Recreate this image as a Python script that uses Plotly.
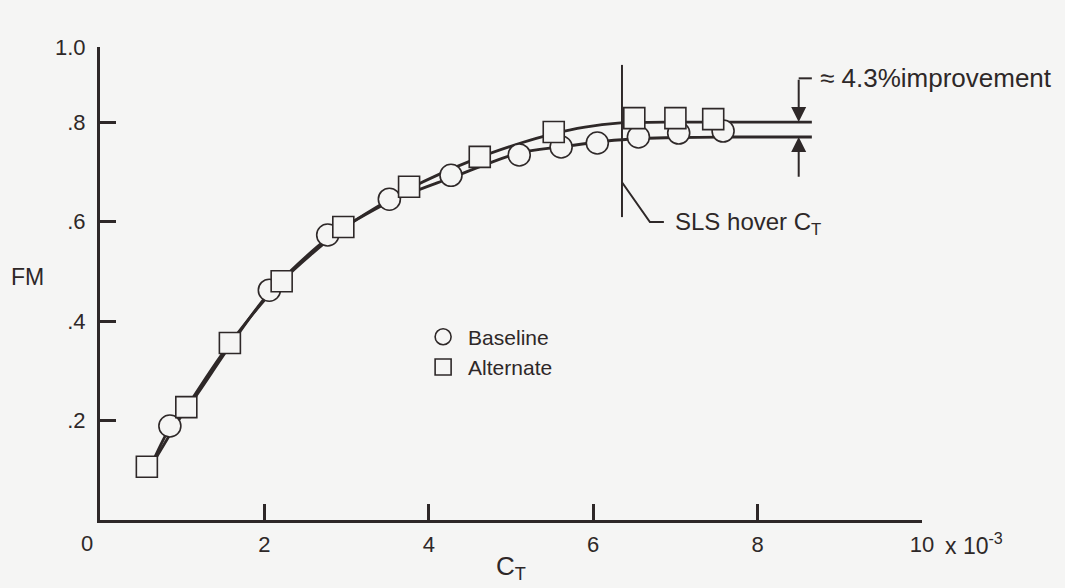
import plotly.graph_objects as go

# ---------------- data ----------------
ct_base = [0.85, 2.06, 2.77, 3.52, 4.27, 5.10, 5.61, 6.05, 6.55, 7.04, 7.58]
fm_base = [0.189, 0.462, 0.573, 0.645, 0.693, 0.734, 0.750, 0.758, 0.770, 0.778, 0.782]

ct_alt = [0.57, 1.05, 1.58, 2.21, 2.96, 3.76, 4.62, 5.52, 6.50, 7.00, 7.46]
fm_alt = [0.107, 0.227, 0.356, 0.480, 0.589, 0.670, 0.730, 0.780, 0.808, 0.808, 0.806]

fit_ct_base = [0.6, 0.85, 1.05, 1.58, 2.06, 2.77, 3.5, 4.27, 5.1, 5.6, 6.3, 7.0, 7.6, 8.66]
fit_fm_base = [0.102, 0.185, 0.222, 0.350, 0.457, 0.566, 0.638, 0.688, 0.738, 0.750, 0.764, 0.769, 0.770, 0.770]

fit_ct_alt = [0.6, 1.05, 1.58, 2.2, 2.95, 3.75, 4.6, 5.1, 5.5, 5.9, 6.3, 7.0, 7.6, 8.66]
fit_fm_alt = [0.102, 0.225, 0.355, 0.478, 0.585, 0.665, 0.728, 0.757, 0.776, 0.790, 0.798, 0.800, 0.800, 0.800]

x_tick_vals = [2, 4, 6, 8, 10]
x_tick_text = ["2", "4", "6", "8", "10"]
y_tick_vals = [0.2, 0.4, 0.6, 0.8, 0.951]
y_tick_text = [".2", ".4", ".6", ".8", "1.0"]

sls_hover_ct = 6.35
fm_alt_level = 0.800
fm_base_level = 0.770

INK = "#2e2828"
BG = "#f5f5f4"
FONT = "Liberation Sans, Arial, sans-serif"

fig = go.Figure()

fig.add_trace(go.Scatter(x=fit_ct_base, y=fit_fm_base, mode="lines",
                         line=dict(color=INK, width=2.8, shape="spline", smoothing=0.8),
                         showlegend=False, hoverinfo="skip"))
fig.add_trace(go.Scatter(x=fit_ct_alt, y=fit_fm_alt, mode="lines",
                         line=dict(color=INK, width=2.8, shape="spline", smoothing=0.8),
                         showlegend=False, hoverinfo="skip"))

fig.add_trace(go.Scatter(x=ct_base, y=fm_base, mode="markers", name="Baseline",
                         marker=dict(symbol="circle", size=22, color=BG,
                                     line=dict(color=INK, width=1.6))))
fig.add_trace(go.Scatter(x=ct_alt, y=fm_alt, mode="markers", name="Alternate",
                         marker=dict(symbol="square", size=21, color=BG,
                                     line=dict(color=INK, width=1.6))))

# SLS hover CT marker line and leader
fig.add_shape(type="line", x0=sls_hover_ct, x1=sls_hover_ct, y0=0.609, y1=0.915,
              line=dict(color=INK, width=2))
fig.add_shape(type="path",
              path=f"M {sls_hover_ct},0.679 L 6.69,0.599 L 6.86,0.599",
              line=dict(color=INK, width=2))
fig.add_annotation(x=6.97, y=0.597, text="SLS hover C<sub>T</sub>", showarrow=False,
                   xanchor="left", yanchor="middle",
                   font=dict(family=FONT, size=24, color=INK))

# improvement bracket
fig.add_shape(type="line", x0=8.50, x1=8.66, y0=0.888, y1=0.888,
              line=dict(color=INK, width=2))
fig.add_annotation(x=8.50, y=fm_alt_level, ax=8.50, ay=0.888, axref="x", ayref="y",
                   text="", showarrow=True, arrowhead=2, arrowsize=1.5, arrowwidth=2,
                   arrowcolor=INK, standoff=0)
fig.add_annotation(x=8.50, y=fm_base_level, ax=8.50, ay=0.687, axref="x", ayref="y",
                   text="", showarrow=True, arrowhead=2, arrowsize=1.5, arrowwidth=2,
                   arrowcolor=INK, standoff=0)
fig.add_annotation(x=8.74, y=0.888, text="≈ 4.3%improvement", showarrow=False,
                   xanchor="left", yanchor="middle",
                   font=dict(family=FONT, size=26, color=INK))

# axis titles and extra tick texts (paper coordinates, outside the plot area)
fig.add_annotation(xref="paper", yref="paper", x=-0.088, y=0.514, text="FM",
                   showarrow=False, xanchor="center", yanchor="middle",
                   font=dict(family=FONT, size=23, color=INK))
fig.add_annotation(xref="paper", yref="paper", x=0.5, y=-0.1, text="C<sub>T</sub>",
                   showarrow=False, xanchor="center", yanchor="middle",
                   font=dict(family=FONT, size=26, color=INK))
fig.add_annotation(xref="paper", yref="paper", x=-0.016, y=-0.05, text="0",
                   showarrow=False, xanchor="center", yanchor="middle",
                   font=dict(family=FONT, size=22, color=INK))
fig.add_annotation(xref="paper", yref="paper", x=1.025, y=-0.05,
                   text="x 10<sup>-3</sup>", showarrow=False,
                   xanchor="left", yanchor="middle",
                   font=dict(family=FONT, size=23, color=INK))

fig.update_xaxes(range=[0, 10], tickvals=x_tick_vals, ticktext=x_tick_text,
                 showline=True, linecolor=INK, linewidth=3, mirror=False,
                 ticks="inside", ticklen=16, tickwidth=2.5, tickcolor=INK,
                 showgrid=False, zeroline=False, ticklabelstandoff=3,
                 tickfont=dict(family=FONT, size=22, color=INK))
fig.update_yaxes(range=[0, 0.951], tickvals=y_tick_vals, ticktext=y_tick_text,
                 showline=True, linecolor=INK, linewidth=3, mirror=False,
                 ticks="inside", ticklen=16, tickwidth=2.5, tickcolor=INK,
                 showgrid=False, zeroline=False, ticklabelstandoff=7,
                 tickfont=dict(family=FONT, size=22, color=INK))

fig.update_layout(
    width=1065, height=588, autosize=False,
    margin=dict(l=100, r=143, t=47, b=68),
    paper_bgcolor=BG, plot_bgcolor=BG,
    font=dict(family=FONT, size=21, color=INK),
    showlegend=True,
    legend=dict(x=0.387, y=0.43, xanchor="left", yanchor="top",
                bgcolor="rgba(0,0,0,0)", borderwidth=0, tracegroupgap=0,
                itemwidth=40, font=dict(family=FONT, size=21, color=INK)),
)

fig.write_html("out.html")
